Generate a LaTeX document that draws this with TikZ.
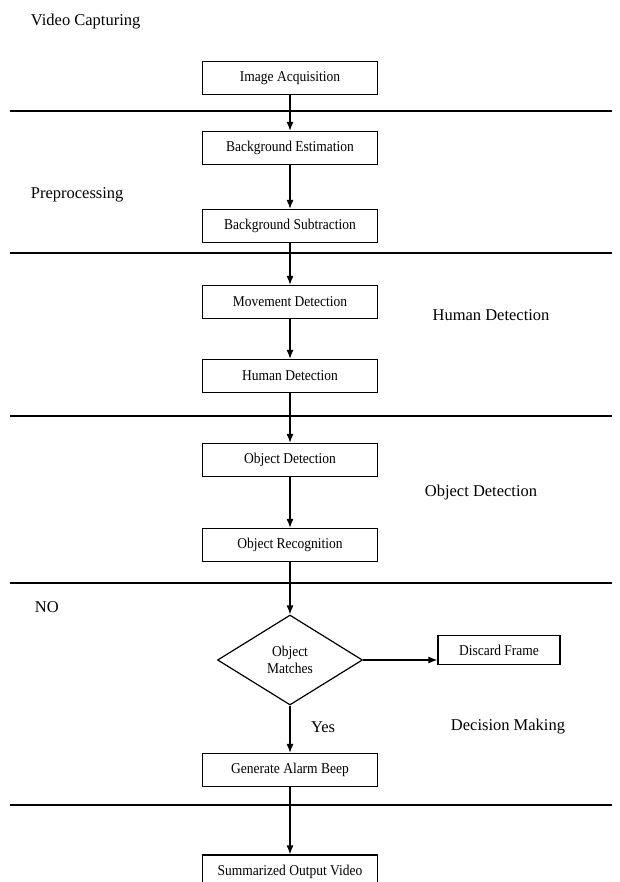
\documentclass[tikz,border=0pt]{standalone}
\usepackage{fontspec}
\setmainfont{Liberation Serif}
\newfontfamily\boxfont[FakeStretch=0.9]{Liberation Serif}
\usetikzlibrary{shapes.geometric,arrows.meta}

\begin{document}
\begin{tikzpicture}[x=1pt,y=-1pt,>={Latex[length=9pt,width=7pt]},line width=1.2pt,
  stepbox/.style={draw,minimum width=175pt,minimum height=33pt,inner sep=0pt,font=\boxfont\fontsize{15}{17}\selectfont},
  decision/.style={draw,diamond,minimum width=145pt,minimum height=90pt,inner sep=0pt,align=center,font=\boxfont\fontsize{15}{17}\selectfont},
  phase/.style={font=\fontsize{16.5}{19}\selectfont},
  rule/.style={line width=1.3pt}]
\useasboundingbox (0,0) rectangle (619,882);
% section lines
\foreach \y in {111,253,416,583,805}
  \draw[rule] (10,\y) -- (612,\y);
% section labels
\node[phase,anchor=west] (capture) at (27,22) {Video Capturing};
\node[phase,anchor=west] (prep) at (27,195) {Preprocessing};
\node[phase] (humanlbl) at (491,315) {Human Detection};
\node[phase] (objlbl) at (481,493) {Object Detection};
\node[phase,anchor=west] (no) at (31,607) {NO};
\node[phase] (yes) at (323,727) {Yes};
\node[phase] (decide) at (508,727) {Decision Making};
% flow
\node[stepbox] (acq) at (290,78) {Image Acquisition};
\node[stepbox] (est) at (290,148) {Background Estimation};
\node[stepbox] (sub) at (290,226) {Background Subtraction};
\node[stepbox] (move) at (290,302) {Movement Detection};
\node[stepbox] (human) at (290,376) {Human Detection};
\node[stepbox] (objdet) at (290,460) {Object Detection};
\node[stepbox] (objrec) at (290,545) {Object Recognition};
\node[decision] (match) at (290,660) {Object\\Matches};
\node[stepbox,minimum width=122pt,minimum height=29pt] (discard) at (499,650) {Discard Frame};
\node[stepbox] (alarm) at (290,770) {Generate Alarm Beep};
\node[stepbox] (summary) at (290,871.5) {Summarized Output Video};
\draw[->] (acq) -- (est);
\draw[->] (est) -- (sub);
\draw[->] (sub) -- (move);
\draw[->] (move) -- (human);
\draw[->] (human) -- (objdet);
\draw[->] (objdet) -- (objrec);
\draw[->] (objrec) -- (match);
\draw[->] (match.east) -- (match.east -| discard.west);
\draw[->] (match) -- (alarm);
\draw[->] (alarm) -- (summary);
\end{tikzpicture}
\end{document}
